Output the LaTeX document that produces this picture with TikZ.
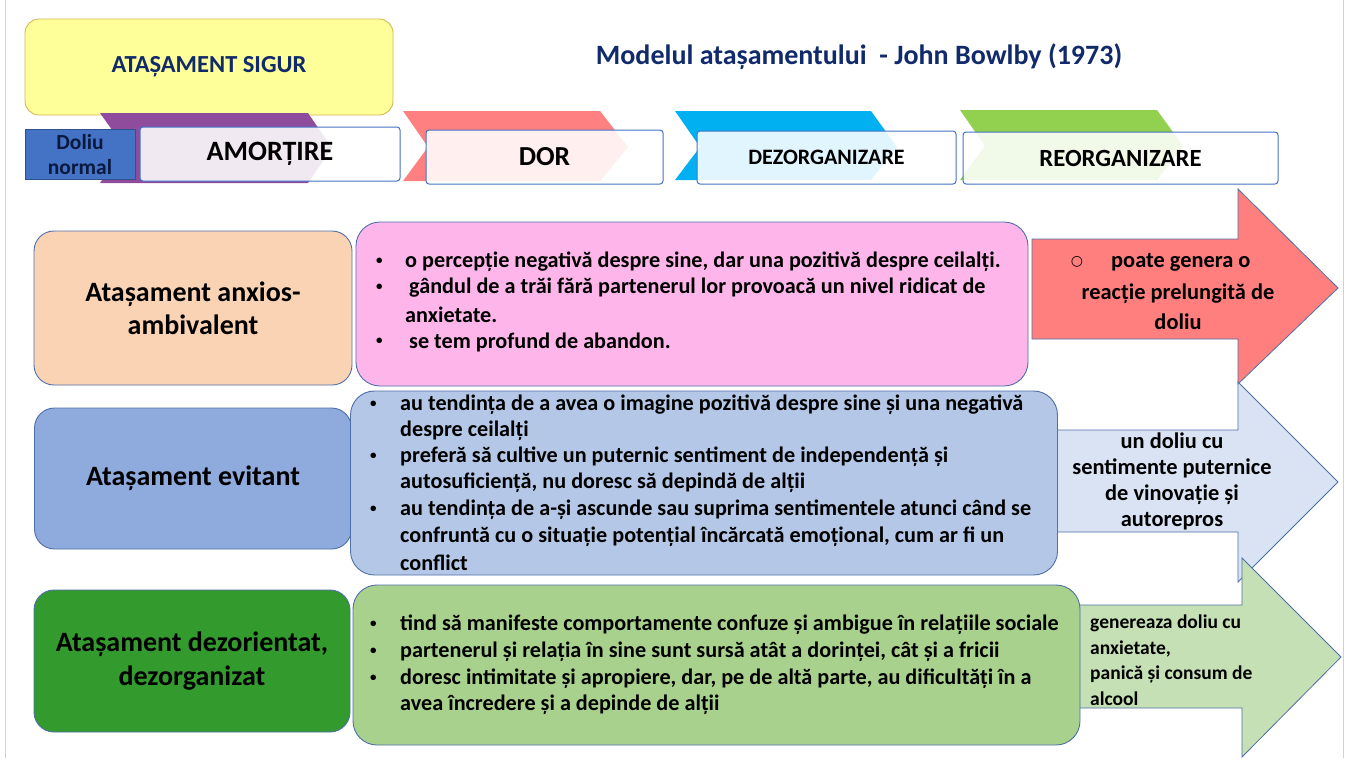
\documentclass[tikz,border=0pt]{standalone}
\usepackage{fontspec}
\setmainfont{Carlito}
\newfontfamily\dejavu{DejaVu Sans}
\definecolor{navy}{HTML}{102A6B}
\definecolor{yel}{HTML}{FFFF99}
\definecolor{yelb}{HTML}{D6B656}
\definecolor{dolf}{HTML}{4472C4}
\definecolor{dolb}{HTML}{2F528F}
\definecolor{chpur}{HTML}{904C9C}
\definecolor{chpink}{HTML}{FF8080}
\definecolor{chcyan}{HTML}{00B0F0}
\definecolor{chgreen}{HTML}{92D050}
\definecolor{phb}{HTML}{4472C4}
\definecolor{peach}{HTML}{FAD3B5}
\definecolor{pinkbox}{HTML}{FEB6EA}
\definecolor{blueL}{HTML}{8FAADC}
\definecolor{blueC}{HTML}{B4C7E7}
\definecolor{dgreen}{HTML}{339A2E}
\definecolor{greenC}{HTML}{A9D18E}
\definecolor{redA}{HTML}{FF7F7F}
\definecolor{blueA}{HTML}{DAE3F3}
\definecolor{greenA}{HTML}{C5E0B4}
\definecolor{bord}{HTML}{4F6FA8}
\newcommand{\bul}{{\fontsize{13}{15}\selectfont\textbullet}}
\begin{document}
\begin{tikzpicture}[x=1pt,y=-1pt,
  phase/.style={fill=white,fill opacity=0.88,text opacity=1,draw=phb,line width=1pt,rounded corners=3pt,font=\bfseries\fontsize{28}{30}\selectfont,inner sep=0pt},
  catbox/.style={draw=bord,line width=0.9pt,rounded corners=20pt,align=center,font=\bfseries\fontsize{28}{33}\selectfont,inner sep=0pt},
  contbox/.style={draw=bord,line width=0.9pt,rounded corners=24pt,inner sep=0pt},
  bl/.style={anchor=west,inner sep=0pt,font=\bfseries\fontsize{22.2}{24}\selectfont},
  arr/.style={draw=bord,line width=0.8pt},
  arrtxt/.style={align=center,inner sep=0pt,font=\bfseries\fontsize{22.4}{30}\selectfont}]
\useasboundingbox (0,0) rectangle (1348,758);
\fill[white] (0,0) rectangle (1348,758);
\draw[gray!35,line width=1pt] (5,0) -- (5,758) (1343,0) -- (1343,758);

% header
\node[draw=yelb,fill=yel,line width=0.9pt,rounded corners=14pt,minimum width=368,minimum height=96,inner sep=0pt,text=navy,font=\bfseries\fontsize{24.5}{26}\selectfont] (sigur) at (209,67) {ATAȘAMENT SIGUR};
\node[text=navy,font=\bfseries\fontsize{28}{30}\selectfont,inner sep=0pt] (title) at (859,57) {Modelul atașamentului \ - John Bowlby (1973)};

% chevrons
\fill[chpur] (100,113) -- (308,113) -- (332,148) -- (308,183) -- (100,183) -- (125,148) -- cycle;
\fill[chpink] (403,111) -- (600,111) -- (628,147) -- (600,181) -- (403,181) -- (428,147) -- cycle;
\fill[chcyan] (675,111) -- (871,111) -- (897,147) -- (871,180) -- (675,180) -- (700,147) -- cycle;
\fill[chgreen] (960,110) -- (1157,110) -- (1183,146) -- (1157,180) -- (960,180) -- (985,146) -- cycle;

\node[draw=dolb,fill=dolf,line width=0.8pt,minimum width=110,minimum height=50,inner sep=0pt,align=center,text=navy!60!black,font=\bfseries\fontsize{21.5}{25}\selectfont] (doliu) at (80,154.5) {Doliu\\normal};
\node[phase,minimum width=260,minimum height=54] (amo) at (270,154) {AMORȚIRE};
\node[phase,minimum width=237,minimum height=54,font=\bfseries\fontsize{27.5}{30}\selectfont] (dor) at (544.5,157) {DOR};
\node[phase,minimum width=259,minimum height=53,font=\bfseries\fontsize{22}{24}\selectfont] (dez) at (826.5,157.5) {DEZORGANIZARE};
\node[phase,minimum width=315,minimum height=52,font=\bfseries\fontsize{24.7}{26}\selectfont] (reo) at (1120.5,158) {REORGANIZARE};

% arrows (outcomes)
\draw[arr,fill=redA] (1032,239) -- (1238,239) -- (1238,189) -- (1338,288) -- (1238,384) -- (1238,339) -- (1032,339) -- cycle;
\draw[arr,fill=blueA] (1045,430) -- (1238,430) -- (1238,382) -- (1338,482) -- (1238,582) -- (1238,532) -- (1045,532) -- cycle;
\draw[arr,fill=greenA] (1070,605) -- (1242,605) -- (1242,558) -- (1341,657) -- (1242,757) -- (1242,708) -- (1070,708) -- cycle;

% row 1
\node[catbox,fill=peach,minimum width=318,minimum height=154] (anx) at (193,308) {Atașament anxios-\\ambivalent};
\node[contbox,fill=pinkbox,minimum width=672,minimum height=164] (anxc) at (692,304) {};
\node[bl] (a1b) at (376,261) {\bul};
\node[bl] (a1) at (405,262) {o percepție negativă despre sine, dar una pozitivă despre ceilalți.};
\node[bl] (a2b) at (376,287) {\bul};
\node[bl] (a2) at (409,288) {gândul de a trăi fără partenerul lor provoacă un nivel ridicat de};
\node[bl] (a3) at (405,315) {anxietate.};
\node[bl] (a4b) at (376,341) {\bul};
\node[bl] (a4) at (409,342) {se tem profund de abandon.};
\node[anchor=center,inner sep=0pt,font=\dejavu\fontsize{14}{15}\selectfont] (anxob) at (1077,262) {○};
\node[bl,font=\bfseries\fontsize{22.4}{24}\selectfont] (anxo1) at (1111,262) {poate genera o};
\node[arrtxt] (anxo) at (1178,307) {reacție prelungită de\\doliu};

% row 2
\node[catbox,fill=blueL,minimum width=317,minimum height=141] (evi) at (193,478.5) {Atașament evitant};
\node[contbox,fill=blueC,minimum width=707,minimum height=184] (evic) at (704,483) {};
\node[bl] (b1b) at (370,404) {\bul};
\node[bl] (b1) at (400,405) {au tendința de a avea o imagine pozitivă despre sine și una negativă};
\node[bl] (b2) at (400,431) {despre ceilalți};
\node[bl] (b3b) at (370,456) {\bul};
\node[bl] (b3) at (400,457) {preferă să cultive un puternic sentiment de independență și};
\node[bl] (b4) at (400,483) {autosuficiență, nu doresc să depindă de alții};
\node[bl] (b5b) at (370,509) {\bul};
\node[bl] (b5) at (400,510) {au tendința de a-și ascunde sau suprima sentimentele atunci când se};
\node[bl] (b6) at (400,537) {confruntă cu o situație potențial încărcată emoțional, cum ar fi un};
\node[bl] (b7) at (400,563) {conflict};
\node[arrtxt,font=\bfseries\fontsize{22.4}{26}\selectfont] (evio) at (1172,481) {un doliu cu\\sentimente puternice\\de vinovație și\\autorepros};

% row 3
\node[catbox,fill=dgreen,minimum width=316,minimum height=142,font=\bfseries\fontsize{28}{34}\selectfont] (dezo) at (192,661) {Atașament dezorientat,\\dezorganizat};
\node[contbox,fill=greenC,minimum width=727,minimum height=160] (dezc) at (716.5,665) {};
\node[bl] (c1b) at (370,624) {\bul};
\node[bl] (c1) at (400,625) {tind să manifeste comportamente confuze și ambigue în relațiile sociale};
\node[bl] (c2b) at (370,651) {\bul};
\node[bl] (c2) at (400,652) {partenerul și relația în sine sunt sursă atât a dorinței, cât și a fricii};
\node[bl] (c3b) at (370,678) {\bul};
\node[bl] (c3) at (400,679) {doresc intimitate și apropiere, dar, pe de altă parte, au dificultăți în a};
\node[bl] (c4) at (400,705) {avea încredere și a depinde de alții};
\node[anchor=north west,align=left,inner sep=0pt,font=\bfseries\fontsize{19.5}{25.5}\selectfont] (dezoo) at (1090,615) {genereaza doliu cu\\anxietate,\\panică și consum de\\alcool};
\end{tikzpicture}
\end{document}
